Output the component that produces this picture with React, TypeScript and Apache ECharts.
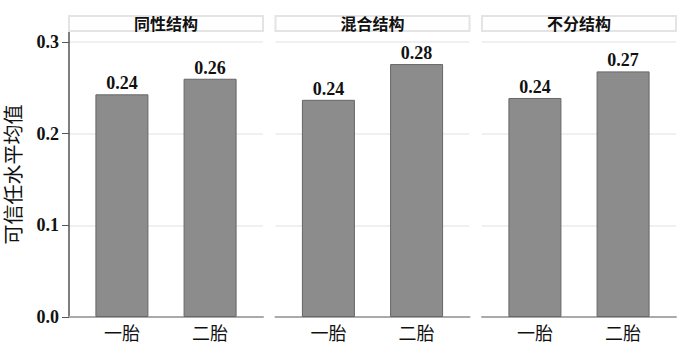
import React, { useEffect, useRef } from "react";
import * as echarts from "echarts";

const categories = ["一胎", "二胎"];
const facets = ["同性结构", "混合结构", "不分结构"];
const firstBirth = [0.243, 0.237, 0.239];
const secondBirth = [0.26, 0.276, 0.268];
const yTicks = [0, 0.1, 0.2, 0.3];
const yTitle = "可信任水平均值";

const FONT = "'Liberation Serif', 'Noto Sans CJK SC', serif";
const lefts = [69, 275.5, 482];
const panelW = 194;
const top = 32;
const bottom = 33;

export default function App() {
  const ref = useRef<HTMLDivElement>(null);
  useEffect(() => {
    document.body.style.margin = "0";
    if (!ref.current) return;
    const chart = echarts.init(ref.current, null, { renderer: "svg" });
    const grids = lefts.map((l) => ({ left: l, width: panelW, top, bottom, containLabel: false }));
    const xAxes = lefts.map((_, i) => ({
      type: "value",
      gridIndex: i,
      min: 0.4,
      max: 2.6,
      axisLine: { show: true, lineStyle: { color: "#aaaaaa", width: 2 } },
      axisTick: { show: false },
      splitLine: { show: false },
      axisLabel: {
        customValues: [1, 2],
        formatter: (v: number) => categories[Math.round(v) - 1] ?? "",
        fontSize: 18,
        fontFamily: FONT,
        color: "#111",
        margin: 8,
      },
    }));
    const yAxes = lefts.map((_, i) => ({
      type: "value",
      gridIndex: i,
      min: 0,
      max: 0.311,
      name: i === 0 ? yTitle : "",
      nameLocation: "middle",
      nameRotate: 90,
      nameGap: 45,
      nameTextStyle: { fontSize: 20, fontFamily: FONT, color: "#111" },
      axisLine: { show: i === 0, lineStyle: { color: "#555", width: 1.5 } },
      axisTick: { show: i === 0, length: 7, customValues: yTicks, lineStyle: { color: "#555", width: 1 } },
      splitLine: { show: true, lineStyle: { color: "#f0f0f0", width: 2 } },
      axisLabel: {
        show: i === 0,
        customValues: yTicks,
        formatter: (v: number) => v.toFixed(1),
        fontSize: 18,
        fontWeight: "bold",
        fontFamily: FONT,
        color: "#111",
        margin: 10,
      },
    }));
    const series = facets.map((_, i) => ({
      type: "bar",
      xAxisIndex: i,
      yAxisIndex: i,
      barWidth: 53,
      data: [
        [1, firstBirth[i]],
        [2, secondBirth[i]],
      ],
      itemStyle: { color: "#8c8c8c", borderColor: "#666", borderWidth: 1 },
      label: {
        show: true,
        position: "top",
        distance: 2,
        formatter: (p: any) => Number(p.value[1]).toFixed(2),
        fontSize: 18,
        fontWeight: "bold",
        fontFamily: FONT,
        color: "#111",
      },
    }));
    const graphic: any[] = [];
    facets.forEach((f, i) => {
      graphic.push({
        type: "rect",
        shape: { x: lefts[i], y: 16, width: panelW, height: 15 },
        style: { fill: "#fff", stroke: "#e4e4e4", lineWidth: 2 },
        z: 10,
      });
      graphic.push({
        type: "text",
        x: lefts[i] + panelW / 2,
        y: 24,
        style: {
          text: f,
          fontSize: 16,
          fontWeight: "bold",
          fontFamily: FONT,
          fill: "#111",
          align: "center",
          verticalAlign: "middle",
        },
        z: 11,
      });
    });
    chart.setOption({
      animation: false,
      backgroundColor: "#fff",
      grid: grids,
      xAxis: xAxes,
      yAxis: yAxes,
      series,
      graphic,
    });
    return () => chart.dispose();
  }, []);
  return <div ref={ref} style={{ width: 700, height: 350 }} />;
}
